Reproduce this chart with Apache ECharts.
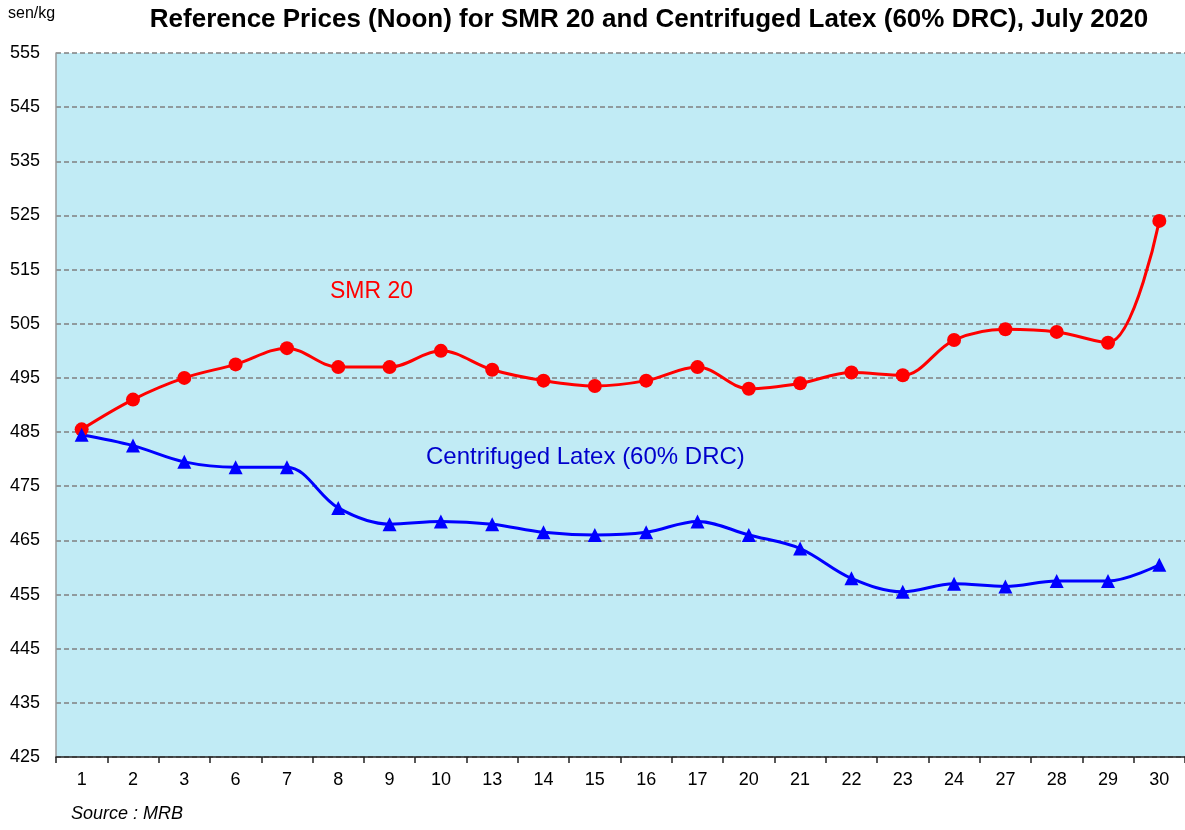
<!DOCTYPE html>
<html>
<head>
<meta charset="utf-8">
<script src="https://cdn.jsdelivr.net/npm/echarts@6/dist/echarts.min.js"></script>
<style>
  html, body { margin: 0; padding: 0; background: #fff; }
  #main { width: 1185px; height: 830px; }
</style>
</head>
<body>
<div id="main"></div>
<script>
// July 2020 trading days
var days = ['1', '2', '3', '6', '7', '8', '9', '10', '13', '14', '15', '16', '17', '20', '21', '22', '23', '24', '27', '28', '29', '30'];
// SMR 20, sen/kg
var smr20 = [485.5, 491, 495, 497.5, 500.5, 497, 497, 500, 496.5, 494.5, 493.5, 494.5, 497, 493, 494, 496, 495.5, 502, 504, 503.5, 501.5, 524];
// Centrifuged Latex (60% DRC), sen/kg
var latex = [484.5, 482.5, 479.5, 478.5, 478.5, 471, 468, 468.5, 468, 466.5, 466, 466.5, 468.5, 466, 463.5, 458, 455.5, 457, 456.5, 457.5, 457.5, 460.5];
var yMin = 425, yMax = 555, yStep = 10;

var myChart = echarts.init(document.getElementById('main'));
var font = 'Liberation Sans, Arial, sans-serif';

var option = {
    backgroundColor: '#ffffff',
    animation: false,
    title: {
        text: 'Reference Prices (Noon) for SMR 20 and Centrifuged Latex (60% DRC), July 2020',
        left: 644,
        textAlign: 'center',
        top: 2,
        textStyle: { fontFamily: font, fontSize: 26, fontWeight: 'bold', color: '#000' }
    },
    grid: {
        left: 56,
        right: 0,
        top: 53,
        bottom: 73,
        show: true,
        backgroundColor: '#c1ebf5',
        borderWidth: 0
    },
    xAxis: {
        type: 'category',
        data: days,
        boundaryGap: true,
        axisLine: { lineStyle: { color: '#222', width: 1.5 } },
        axisTick: { show: true, length: 6, lineStyle: { color: '#222', width: 1.5 } },
        axisLabel: { fontFamily: font, fontSize: 18, color: '#000', margin: 14 }
    },
    yAxis: {
        type: 'value',
        min: yMin,
        max: yMax,
        interval: yStep,
        axisLine: { show: true, lineStyle: { color: '#999', width: 1.5 } },
        axisTick: { show: false },
        axisLabel: { fontFamily: font, fontSize: 18, color: '#000', margin: 16 },
        splitLine: { show: true, lineStyle: { color: '#808080', type: [5, 3], width: 1.5 } }
    },
    series: [
        {
            name: 'SMR 20',
            type: 'line',
            data: smr20,
            smooth: 0.35,
            symbol: 'circle',
            symbolSize: 14,
            lineStyle: { color: '#ff0000', width: 3 },
            itemStyle: { color: '#ff0000' }
        },
        {
            name: 'Centrifuged Latex (60% DRC)',
            type: 'line',
            data: latex,
            smooth: 0.35,
            symbol: 'triangle',
            symbolSize: 14,
            lineStyle: { color: '#0000ff', width: 3 },
            itemStyle: { color: '#0000ff' }
        }
    ],
    graphic: [
        { type: 'text', left: 8, top: 6, style: { text: 'sen/kg', font: '16px ' + font, fill: '#000' } },
        { type: 'text', left: 71, top: 805, style: { text: 'Source : MRB', font: 'italic 18px ' + font, fill: '#000' } },
        { type: 'text', left: 330, top: 280, style: { text: 'SMR 20', font: '23px ' + font, fill: '#ff0000' } },
        { type: 'text', left: 426, top: 445, style: { text: 'Centrifuged Latex (60% DRC)', font: '24px ' + font, fill: '#0000cc' } }
    ]
};

myChart.setOption(option);
</script>
</body>
</html>
